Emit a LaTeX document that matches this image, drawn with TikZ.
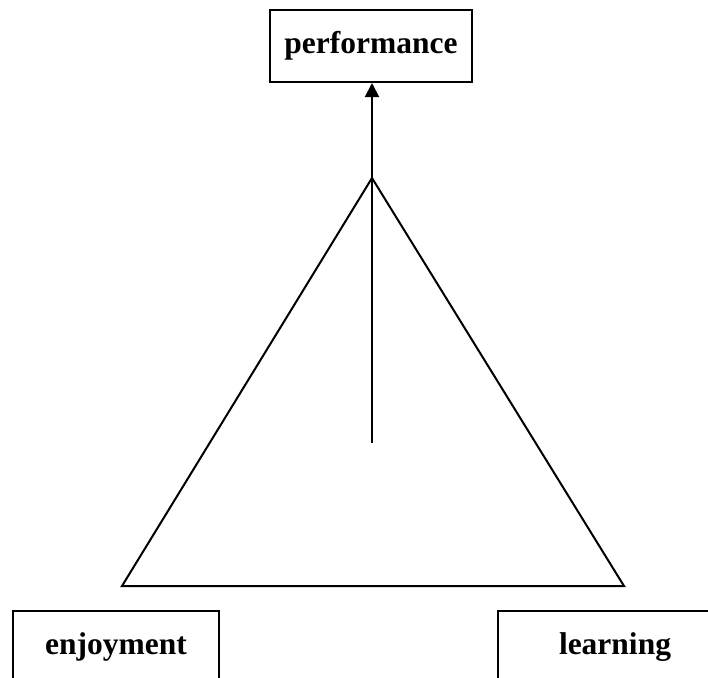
\documentclass[tikz,border=0pt]{standalone}
\usepackage{fontspec}
\setmainfont{Liberation Serif}
\usepackage{tikz}
\usetikzlibrary{positioning,arrows.meta}

\tikzset{
  factor/.style={draw, line width=1pt, minimum width=101pt, minimum height=36pt,
    inner sep=0pt, font=\fontsize{15.75}{18}\selectfont\bfseries},
  link/.style={line width=1pt}
}

\begin{document}
\begin{tikzpicture}[x=0.5pt, y=-0.5pt]
            \useasboundingbox (0,0) rectangle (708,677);
            \clip (0,0) rectangle (708,677);

            % Nodes

            \node[factor] (perf) at (371,46) {performance};
            \node[factor, minimum width=103pt] (enjoy) at (116,647) {enjoyment};
            \node[factor, minimum width=125pt] (learn) at (623,647) {};
            \node[font=\fontsize{15.75}{18}\selectfont\bfseries] (learntext) at (615,647) {learning};

            \coordinate (apex) at (372,178);
            \coordinate (left) at (122,586);
            \coordinate (right) at (624,586);
            \coordinate (base) at (372,443);

            % Edges

            \draw[link, line join=miter] (apex) -- (left) -- (right) -- cycle;
            \draw[link, -{Triangle[length=7pt, width=7pt]}] (base) -- (base |- perf.south);

            \end{tikzpicture}
\end{document}
